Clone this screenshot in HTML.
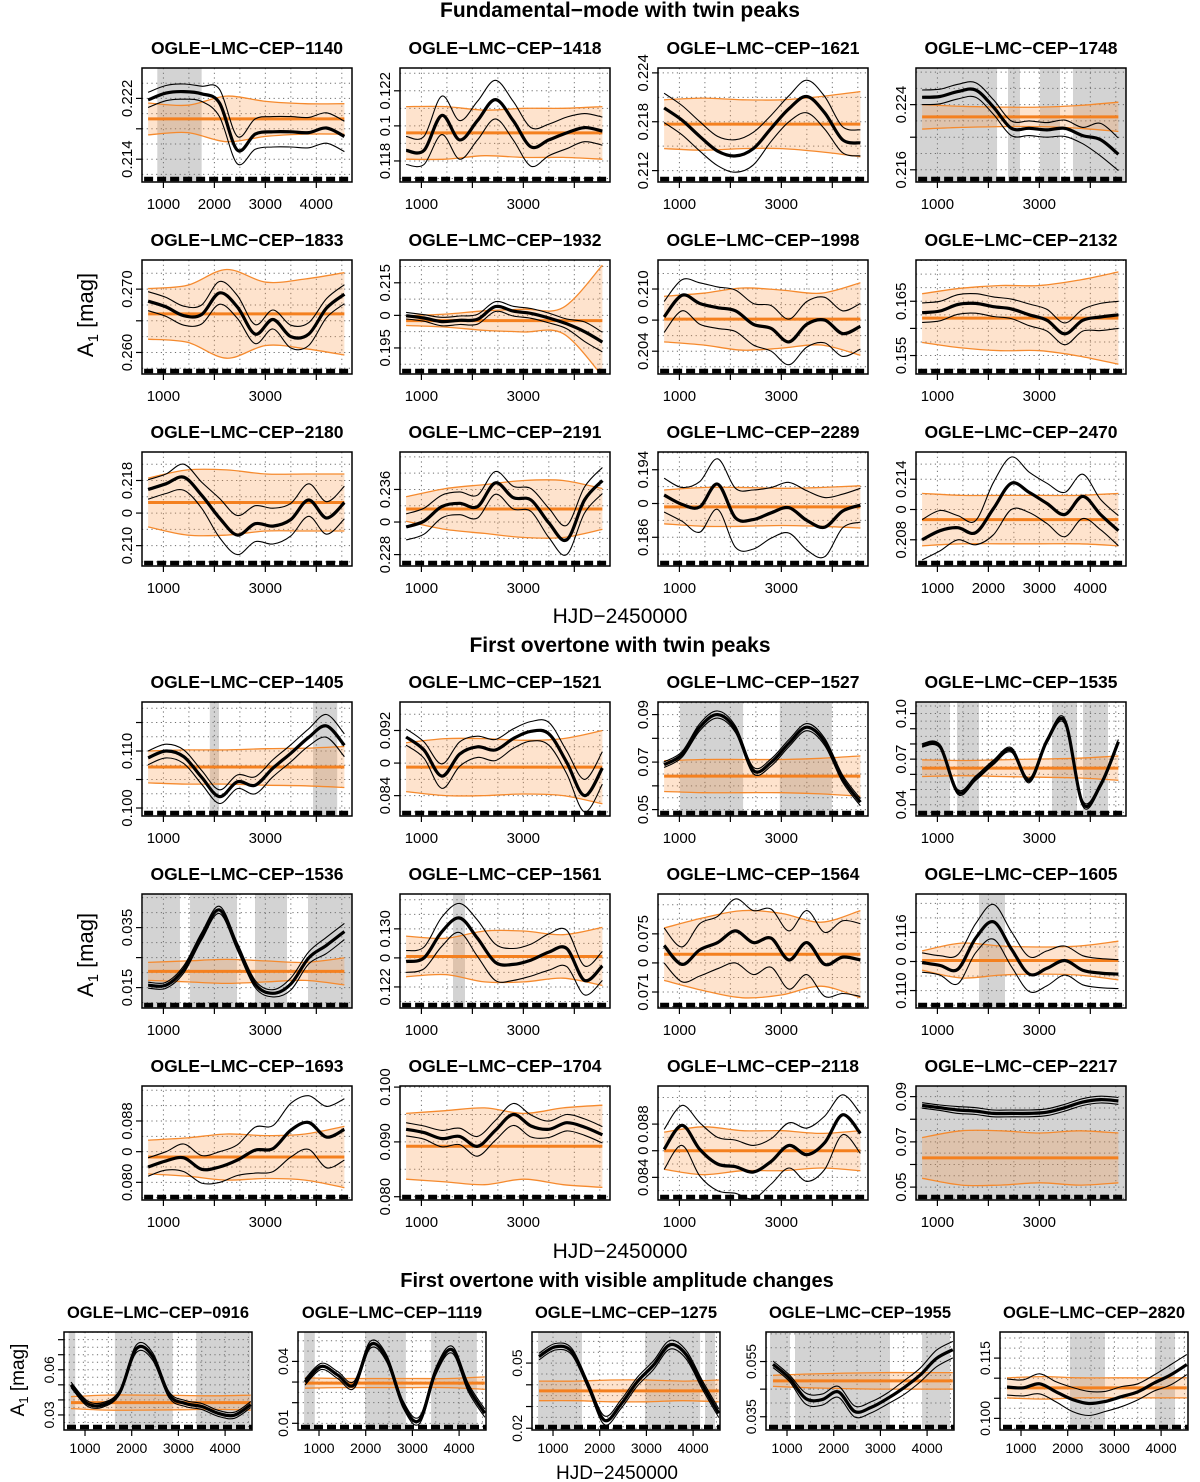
<!DOCTYPE html>
<html><head><meta charset="utf-8">
<style>
html,body{margin:0;padding:0;background:#fff;}
svg{display:block;font-family:"Liberation Sans",Arial,sans-serif;}
</style></head>
<body>
<svg id="fig" xmlns="http://www.w3.org/2000/svg" width="1200" height="1482" viewBox="0 0 1200 1482">
<text x="620" y="17" text-anchor="middle" font-size="21" font-weight="bold">Fundamental−mode with twin peaks</text>
<text x="620" y="652" text-anchor="middle" font-size="21" font-weight="bold">First overtone with twin peaks</text>
<text x="617" y="1287" text-anchor="middle" font-size="20" font-weight="bold">First overtone with visible amplitude changes</text>
<text x="620" y="623" text-anchor="middle" font-size="21">HJD−2450000</text>
<text x="620" y="1258" text-anchor="middle" font-size="21">HJD−2450000</text>
<text x="617" y="1479" text-anchor="middle" font-size="19">HJD−2450000</text>
<text transform="translate(93,315) rotate(-90)" text-anchor="middle" font-size="22">A<tspan font-size="15" dy="5">1</tspan><tspan dy="-5"> [mag]</tspan></text>
<text transform="translate(93,955) rotate(-90)" text-anchor="middle" font-size="22">A<tspan font-size="15" dy="5">1</tspan><tspan dy="-5"> [mag]</tspan></text>
<text transform="translate(24,1380) rotate(-90)" text-anchor="middle" font-size="19">A<tspan font-size="13" dy="4">1</tspan><tspan dy="-4"> [mag]</tspan></text>
<g id="panels"></g>
</svg>
<script>
const panelNames = ["1140","1418","1621","1748","1833","1932","1998","2132","2180","2191","2289","2470",
"1405","1521","1527","1535","1536","1561","1564","1605","1693","1704","2118","2217",
"0916","1119","1275","1955","2820"];
const dataX = [700,1050,1400,1750,2100,2450,2800,3150,3500,3850,4200,4550];
const bandX = [700,1470,2240,3010,3780,4550];
const yLo = [.211,.1168,.2106,.2145,.2566,.1870,.2018,.1516,.2075,.2266,.1826,.2054,
.0986,.0815,.0473,.0326,.0082,.1191,.0699,.1082,.0777,.0794,.0823,.0443,
.020,.00676,.0192,.0302,.0971];
const yRange = [.015,.0065,.014,.014,.018,.035,.011,.021,.014,.014,.0135,.0113,
.020,.014,.048,.075,.038,.0157,.00784,.01177,.01486,.0208,.00856,.0504,
.0651,.0475,.0451,.0355,.0244];
const yTickVals = [[.214,.218,.222],[.118,.120,.122],[.212,.218,.224],[.216,.220,.224],[.260,.265,.270],[.195,.205,.215],[.204,.207,.210],[.155,.160,.165],[.210,.214,.218],[.228,.232,.236],[.186,.190,.194],[.208,.211,.214],
[.100,.105,.110,.115],[.084,.088,.092],[.05,.06,.07,.08,.09],[.04,.05,.06,.07,.08,.09,.10],[.015,.025,.035],[.122,.126,.130],[.071,.073,.075],[.110,.113,.116],[.080,.084,.088],[.080,.090,.100],[.084,.086,.088],[.05,.06,.07,.08,.09],
[.03,.04,.05,.06,.07,.08,.09],[.01,.02,.03,.04],[.02,.03,.04,.05],[.035,.045,.055],[.100,.105,.110,.115]];
const yTickText = [["0.214","","0.222"],["0.118","0.1","0.122"],["0.212","0.218","0.224"],["0.216","","0.224"],["0.260","","0.270"],["0.195","0","0.215"],["0.204","0","0.210"],["0.155","","0.165"],["0.210","0","0.218"],["0.228","0","0.236"],["0.186","0","0.194"],["0.208","0","0.214"],
["0.100","","0.110",""],["0.084","0","0.092"],["0.05","","0.07","","0.09"],["0.04","","","0.07","","","0.10"],["0.015","","0.035"],["0.122","0","0.130"],["0.071","0","0.075"],["0.110","0","0.116"],["0.080","0","0.088"],["0.080","0.090","0.100"],["0.084","0","0.088"],["0.05","","0.07","","0.09"],
["0.03","","","0.06","","","0.09"],["0.01","","","0.04"],["0.02","","","0.05"],["0.035","","0.055"],["0.100","","","0.115"]];
const thickVals = [
[.2218,.2227,.2229,.2226,.2214,.2152,.2173,.2176,.2176,.2175,.2181,.2170],
[.1186,.1186,.1206,.1192,.1203,.1215,.1203,.1188,.1192,.1196,.1199,.1197],
[.2197,.2182,.2162,.2144,.2138,.2147,.2172,.2196,.2211,.2191,.2158,.2154],
[.2249,.2250,.2256,.2258,.2237,.2211,.2211,.2209,.2211,.2202,.2197,.2179],
[.2681,.2672,.2658,.2660,.2694,.2672,.2629,.2652,.2625,.2629,.2670,.2692],
[.2049,.2042,.2031,.2035,.2038,.2077,.2063,.2056,.2042,.2024,.2000,.1968],
[.2073,.2094,.2086,.2082,.2079,.2066,.2062,.2049,.2066,.2070,.2057,.2064],
[.1629,.1632,.1644,.1646,.1640,.1636,.1625,.1615,.1590,.1615,.1621,.1625],
[.2169,.2176,.2184,.2162,.2134,.2113,.2127,.2124,.2132,.2156,.2134,.2153],
[.2314,.2321,.2339,.2343,.2339,.2368,.2350,.2347,.2319,.2298,.2347,.2371],
[.1910,.1899,.1896,.1923,.1883,.1881,.1889,.1895,.1880,.1872,.1891,.1898],
[.2080,.2089,.2092,.2087,.2111,.2136,.2127,.2116,.2105,.2123,.2105,.2089],
[.1088,.1100,.1090,.1054,.1020,.1046,.1040,.1070,.1096,.1124,.1144,.1110],
[.0912,.0896,.0864,.0891,.0900,.0896,.0910,.0919,.0916,.0881,.0840,.0874],
[.0689,.0732,.0847,.0900,.0838,.0665,.0699,.0780,.0847,.0785,.0631,.0531],
[.0791,.0784,.0484,.0574,.0679,.0761,.0559,.0821,.0949,.0409,.0529,.0814],
[.0158,.0158,.0211,.0321,.0409,.0287,.0162,.0131,.0162,.0249,.0291,.0337],
[.1255,.1260,.1296,.1315,.1287,.1254,.1251,.1257,.1268,.1273,.1229,.1249],
[.0742,.0729,.0739,.0744,.0752,.0744,.0747,.0732,.0744,.0729,.0734,.0732],
[.1129,.1126,.1122,.1154,.1171,.1143,.1117,.1123,.1131,.1121,.1118,.1117],
[.0820,.0828,.0832,.0817,.0820,.0829,.0842,.0844,.0868,.0878,.0859,.0869],
[.0923,.0917,.0906,.0910,.0892,.0921,.0950,.0929,.0923,.0935,.0927,.0913],
[.0861,.0879,.0861,.0850,.0848,.0844,.0852,.0864,.0857,.0866,.0887,.0873],
[.0861,.0851,.0841,.0836,.0826,.0826,.0826,.0831,.0851,.0876,.0887,.0881],
[.0500,.0376,.0369,.0454,.0740,.0688,.0434,.0376,.0356,.0311,.0298,.0369],
[.0300,.0376,.0334,.0286,.0481,.0414,.0191,.0115,.0353,.0457,.0272,.0149],
[.0530,.0575,.0553,.0399,.0237,.0309,.0413,.0490,.0584,.0539,.0399,.0269],
[.0540,.0490,.0416,.0412,.0440,.0369,.0384,.0416,.0455,.0501,.0561,.0593],
[.1078,.1076,.1086,.1066,.1047,.1037,.1042,.1054,.1066,.1088,.1108,.1134]];
const spreadVals = [
[.0010,.0010,.0018,.0020,.0020,.0020],[.0008,.0011,.0011,.0011,.0009,.0008],[.0018,.0018,.0020,.0016,.0020,.0016],[.0009,.0009,.0009,.0009,.0010,.0020],
[.0015,.0015,.0018,.0015,.0018,.0015],[.0010,.0013,.0015,.0015,.0015,.0030],[.0015,.0020,.0020,.0022,.0022,.0022],[.0018,.0018,.0018,.0020,.0020,.0025],
[.0012,.0016,.0024,.0022,.0020,.0020],[.0016,.0014,.0014,.0014,.0018,.0016],[.0020,.0030,.0035,.0030,.0035,.0020],[.0020,.0012,.0026,.0020,.0022,.0015],
[.0012,.0012,.0012,.0015,.0015,.0020],[.0010,.0015,.0013,.0012,.0014,.0020],[.0012,.0015,.0014,.0015,.0015,.0015],[.0012,.0015,.0015,.0015,.0018,.0015],
[.0010,.0012,.0012,.0012,.0020,.0027],[.0015,.0020,.0025,.0022,.0025,.0020],[.0012,.0018,.0022,.0020,.0022,.0025],[.0010,.0015,.0018,.0018,.0015,.0015],
[.0012,.0018,.0020,.0030,.0035,.0040],[.0012,.0015,.0018,.0020,.0015,.0015],[.0015,.0020,.0020,.0017,.0020,.0015],[.0012,.0015,.0015,.0015,.0015,.0015],
[.0018,.0015,.0025,.0020,.0020,.0020],[.0015,.0017,.0017,.0017,.0017,.0020],[.0015,.0015,.0020,.0020,.0020,.0020],[.0012,.0020,.0020,.0020,.0025,.0030],[.0020,.0025,.0030,.0025,.0020,.0025]];
const orangeMid = [.2193,.1196,.2177,.2225,.2661,.2034,.2071,.1619,.2153,.2336,.1896,.2100,
.1072,.0875,.0641,.0641,.0204,.1262,.0736,.1131,.0833,.0892,.0860,.0629,
.0382,.0295,.0372,.0480,.1076];
const orangeHW = [
[.0021,.0018,.0030,.0023,.0020,.0020],[.0015,.0015,.0013,.0014,.0014,.0015],[.0030,.0032,.0030,.0030,.0034,.0040],[.0015,.0013,.0012,.0012,.0014,.0018],
[.0040,.0045,.0070,.0050,.0055,.0065],[.0015,.0020,.0030,.0035,.0040,.0170],[.0022,.0025,.0030,.0028,.0025,.0035],[.0045,.0055,.0060,.0060,.0070,.0085],
[.0030,.0040,.0040,.0035,.0035,.0035],[.0015,.0025,.0030,.0035,.0035,.0025],[.0020,.0023,.0023,.0022,.0023,.0025],[.0026,.0024,.0024,.0024,.0024,.0026],
[.0028,.0030,.0030,.0032,.0033,.0036],[.0030,.0035,.0035,.0033,.0035,.0045],[.0065,.0070,.0070,.0070,.0075,.0085],[.0055,.0050,.0055,.0060,.0065,.0080],
[.0030,.0035,.0040,.0035,.0030,.0045],[.0028,.0025,.0035,.0035,.0030,.0040],[.0018,.0025,.0030,.0028,.0022,.0030],[.0010,.0018,.0015,.0014,.0015,.0020],
[.0022,.0025,.0030,.0028,.0030,.0040],[.0060,.0065,.0070,.0060,.0070,.0075],[.0014,.0018,.0015,.0015,.0013,.0015],[.0090,.0120,.0120,.0110,.0120,.0110],
[.0040,.0050,.0050,.0048,.0045,.0050],[.0025,.0022,.0022,.0022,.0022,.0030],[.0045,.0045,.0050,.0050,.0045,.0050],[.0020,.0025,.0028,.0030,.0030,.0030],[.0025,.0028,.0025,.0025,.0025,.0025]];
const grayBands = [[[880,1750]],[],[],[[600,2170],[2385,2620],[3013,3405],[3660,4700]],
[],[],[],[],[],[],[],[],
[[1910,2090],[3935,4410]],[],[[1010,2250],[2970,3990]],[[600,1247],[1384,1816],[3248,3739],[3856,4347]],
[[600,1325],[1522,2444],[2797,3425],[3837,4700]],[[1620,1855]],[],[[1816,2326]],
[],[],[],[[560,4720]],
[[650,790],[1640,2880],[3380,4540]],[[680,910],[1985,2860],[3400,4380]],[[680,1620],[2970,4150],[4255,4470]],[[636,1064],[1171,3205],[3891,4490]],[[2049,2798],[3869,4298]]];
const xTickVals = [1000,2000,3000,4000];
const xTickFull = ["1000","2000","3000","4000"];
const xTickHalf = ["1000","","3000",""];

const NS = "http://www.w3.org/2000/svg";
const root = document.getElementById("panels");
function mk(tag, attrs, parent){const e=document.createElementNS(NS,tag);for(const k in attrs)e.setAttribute(k,attrs[k]);(parent||root).appendChild(e);return e;}
function smooth(pts){
  let d="M"+pts[0][0].toFixed(1)+","+pts[0][1].toFixed(1);
  for(let i=0;i<pts.length-1;i++){
    const p0=pts[i-1]||pts[i],p1=pts[i],p2=pts[i+1],p3=pts[i+2]||pts[i+1];
    const c1=[p1[0]+(p2[0]-p0[0])/6,p1[1]+(p2[1]-p0[1])/6];
    const c2=[p2[0]-(p3[0]-p1[0])/6,p2[1]-(p3[1]-p1[1])/6];
    d+=" C"+c1[0].toFixed(1)+","+c1[1].toFixed(1)+" "+c2[0].toFixed(1)+","+c2[1].toFixed(1)+" "+p2[0].toFixed(1)+","+p2[1].toFixed(1);
  }
  return d;
}
function layout(i){
  if(i<24){
    const sec=i<12?0:1, k=i%12, r=Math.floor(k/4), c=k%4;
    const tops=sec===0?[68,260,452]:[702,894,1086];
    return {x:142+c*258,y:tops[r],w:210,h:114,xmin:580,xmax:4700,fs:15,tfs:17.5};
  }
  const c=i-24;
  return {x:64+c*234,y:1332,w:188,h:98,xmin:550,xmax:4576,fs:14,tfs:16.5};
}
for(let i=0;i<panelNames.length;i++){
  const L=layout(i);
  const lo=yLo[i], hi=yLo[i]+yRange[i];
  const sx=v=>L.x+(v-L.xmin)/(L.xmax-L.xmin)*L.w;
  const sy=v=>L.y+L.h-(v-lo)/(hi-lo)*L.h;
  const g=mk("g",{});
  
  
  const cp=mk("clipPath",{id:"clip"+i},g);
  mk("rect",{x:L.x,y:L.y,width:L.w,height:L.h},cp);
  const inner=mk("g",{"clip-path":"url(#clip"+i+")"},g);
  grayBands[i].forEach((b,j)=>{
    const r=mk("rect",{x:sx(b[0]),y:L.y,width:sx(b[1])-sx(b[0]),height:L.h,fill:"#d3d3d3"},inner);
    
    
  });
  for(let xv=1000;xv<=4500;xv+=500){
    mk("line",{x1:sx(xv),x2:sx(xv),y1:L.y,y2:L.y+L.h,stroke:"#6f6f6f","stroke-width":1,"stroke-dasharray":"1.2 3.5"},inner);
  }
  const tv=yTickVals[i], step=(tv[1]-tv[0])/2;
  for(let yv=tv[0]-step*10;yv<=hi;yv+=step){
    if(yv<lo) continue;
    mk("line",{x1:L.x,x2:L.x+L.w,y1:sy(yv),y2:sy(yv),stroke:"#6f6f6f","stroke-width":1,"stroke-dasharray":"1.2 3.5"},inner);
  }
  const up=bandX.map((x,j)=>[sx(x),sy(orangeMid[i]+orangeHW[i][j])]);
  const dn=bandX.map((x,j)=>[sx(x),sy(orangeMid[i]-orangeHW[i][j])]);
  const dUp=smooth(up), dDn=smooth(dn.slice().reverse());
  const band=mk("path",{d:dUp+" L"+dDn.slice(1)+" Z",fill:"rgba(250,150,70,0.27)",stroke:"none"},inner);
  
  
  const bu=mk("path",{d:dUp,fill:"none",stroke:"#f58a2e","stroke-width":1.3},inner);
  
  
  const bl=mk("path",{d:smooth(dn),fill:"none",stroke:"#f58a2e","stroke-width":1.3},inner);
  
  
  const om=mk("line",{x1:sx(bandX[0]),x2:sx(bandX[5]),y1:sy(orangeMid[i]),y2:sy(orangeMid[i]),stroke:"#f4801f","stroke-width":3},inner);
  
  
  const thUp=dataX.map((x,j)=>[sx(x),sy(thickVals[i][j]+spreadVals[i][Math.floor(j/2)])]);
  const thDn=dataX.map((x,j)=>[sx(x),sy(thickVals[i][j]-spreadVals[i][Math.floor(j/2)])]);
  const t1=mk("path",{d:smooth(thUp),fill:"none",stroke:"#000","stroke-width":1.1},inner);
  
  
  const t2=mk("path",{d:smooth(thDn),fill:"none",stroke:"#000","stroke-width":1.1},inner);
  
  
  const th=mk("path",{d:smooth(dataX.map((x,j)=>[sx(x),sy(thickVals[i][j])])),fill:"none",stroke:"#000","stroke-width":3.2},inner);
  
  
  const rug=mk("line",{x1:sx(dataX[0])-4,x2:sx(dataX[11])+4,y1:L.y+L.h-3,y2:L.y+L.h-3,stroke:"#000","stroke-width":4.5,"stroke-dasharray":"9 4"},inner);
  
  
  const box=mk("rect",{x:L.x,y:L.y,width:L.w,height:L.h,fill:"none",stroke:"#000","stroke-width":1.5},g);
  
  
  const xl=(i===0||i===11||i>=24)?xTickFull:xTickHalf;
  xTickVals.forEach((xv,j)=>{
    mk("line",{x1:sx(xv),x2:sx(xv),y1:L.y+L.h,y2:L.y+L.h+6,stroke:"#000","stroke-width":1.2},g);
    if(xl[j]){
      const t=mk("text",{x:sx(xv),y:L.y+L.h+(i>=24?23:27),"text-anchor":"middle","font-size":L.fs},g);
      t.textContent=xl[j];
      
      
    }
  });
  tv.forEach((yv,j)=>{
    const yy=sy(yv);
    if(yy<L.y-1||yy>L.y+L.h+1) return;
    mk("line",{x1:L.x-6,x2:L.x,y1:yy,y2:yy,stroke:"#000","stroke-width":1.2},g);
    const s=yTickText[i][j];
    if(s){
      const t=mk("text",{transform:"translate("+(L.x-10)+","+yy.toFixed(1)+") rotate(-90)","text-anchor":"middle","font-size":L.fs},g);
      t.textContent=s;
      
      
    }
  });
  const tt=mk("text",{x:L.x+L.w/2,y:L.y-14,"text-anchor":"middle","font-size":L.tfs,"font-weight":"bold"},g);
  tt.textContent="OGLE−LMC−CEP−"+panelNames[i];
  
  
}
</script>
</body></html>
